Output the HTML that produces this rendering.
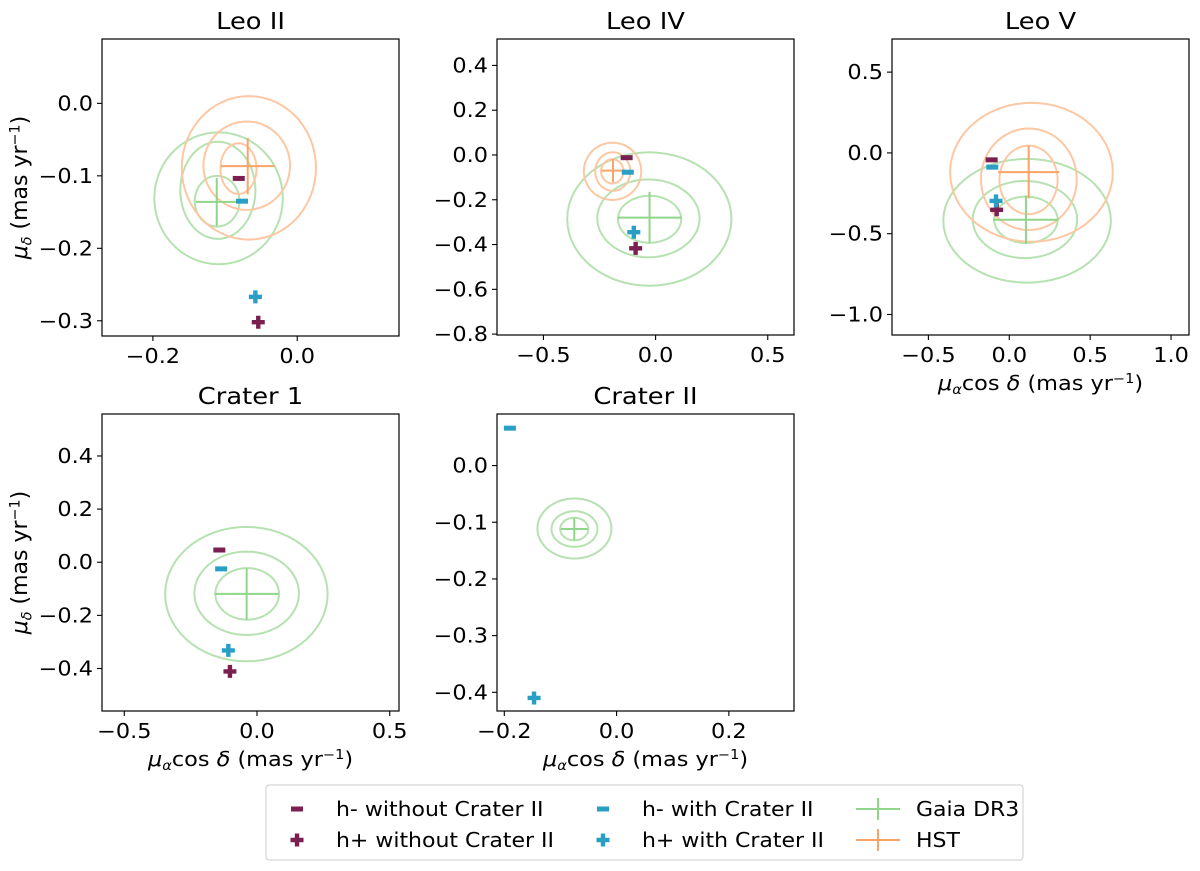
<!DOCTYPE html>
<html><head><meta charset="utf-8"><style>
body{margin:0;background:#fff;}
svg{display:block;font-family:"DejaVu Sans","Liberation Sans",sans-serif;}
.sx{transform-box:fill-box;transform-origin:center;transform:scaleX(1.12);}
</style></head><body>
<svg id="fig" width="1200" height="871" viewBox="0 0 1200 871" xmlns="http://www.w3.org/2000/svg"></svg>
<script>
// Panel definitions
const panelNames = ["Leo II","Leo IV","Leo V","Crater 1","Crater II"];
const panelBoxes = [[102,39,297,297],[497,39,297,296],[892,39,297,296],[102,414,297,297],[497,414,297,297]];
const xLims = [[-0.2705,0.141],[-0.707,0.617],[-0.725,1.111],[-0.584,0.535],[-0.213,0.316]];
const yLims = [[-0.321,0.0888],[-0.804,0.518],[-1.127,0.705],[-0.56,0.558],[-0.433,0.091]];
const xTicks = [[-0.2,0.0],[-0.5,0.0,0.5],[-0.5,0.0,0.5,1.0],[-0.5,0.0,0.5],[-0.2,0.0,0.2]];
const xTickLabels = [["−0.2","0.0"],["−0.5","0.0","0.5"],["−0.5","0.0","0.5","1.0"],["−0.5","0.0","0.5"],["−0.2","0.0","0.2"]];
const yTicks = [[0.0,-0.1,-0.2,-0.3],[0.4,0.2,0.0,-0.2,-0.4,-0.6,-0.8],[0.5,0.0,-0.5,-1.0],[0.4,0.2,0.0,-0.2,-0.4],[0.0,-0.1,-0.2,-0.3,-0.4]];
const yTickLabels = [["0.0","−0.1","−0.2","−0.3"],["0.4","0.2","0.0","−0.2","−0.4","−0.6","−0.8"],["0.5","0.0","−0.5","−1.0"],["0.4","0.2","0.0","−0.2","−0.4"],["0.0","−0.1","−0.2","−0.3","−0.4"]];
const showYLabel = [true,false,false,true,false];
const showXLabel = [false,false,true,true,true];

// Gaia DR3 measurements
const gaiaX = [-0.1115,-0.027,0.103,-0.039,-0.0754];
const gaiaY = [-0.136,-0.280,-0.414,-0.119,-0.112];
const gaiaXerr = [0.029,0.143,0.203,0.121,0.024];
const gaiaYerr = [0.033,0.115,0.15,0.097,0.02];
// HST measurements (null = none)
const hstX = [-0.0686,-0.19,0.12,null,null];
const hstY = [-0.0866,-0.070,-0.119,null,null];
const hstXerr = [0.037,0.052,0.189,null,null];
const hstYerr = [0.039,0.052,0.163,null,null];
// model predictions
const hMinusNoX = [-0.081,-0.129,-0.109,-0.142,null];
const hMinusNoY = [-0.1036,-0.012,-0.043,0.046,null];
const hPlusNoX = [-0.054,-0.089,-0.078,-0.102,null];
const hPlusNoY = [-0.302,-0.417,-0.352,-0.411,null];
const hMinusWithX = [-0.0765,-0.124,-0.105,-0.135,-0.19];
const hMinusWithY = [-0.135,-0.077,-0.088,-0.025,0.066];
const hPlusWithX = [-0.058,-0.097,-0.082,-0.108,-0.147];
const hPlusWithY = [-0.267,-0.345,-0.297,-0.332,-0.41];
// contour levels [cx, cy, rx, ry]
const gaiaContours = [
 [[-0.111,-0.135,0.031,0.035],[-0.110,-0.12,0.052,0.067],[-0.109,-0.131,0.089,0.091]],
 [[-0.027,-0.287,0.141,0.105],[-0.032,-0.283,0.228,0.174],[-0.028,-0.286,0.366,0.298]],
 [[0.103,-0.414,0.196,0.144],[0.097,-0.412,0.323,0.239],[0.11,-0.42,0.518,0.383]],
 [[-0.037,-0.119,0.120,0.097],[-0.039,-0.117,0.197,0.157],[-0.04,-0.12,0.306,0.253]],
 [[-0.0754,-0.112,0.025,0.020],[-0.075,-0.112,0.041,0.0315],[-0.075,-0.111,0.066,0.053]]
];
const hstContours = [
 [[-0.0815,-0.090,0.025,0.035],[-0.070,-0.086,0.060,0.061],[-0.067,-0.089,0.093,0.099]],
 [[-0.193,-0.073,0.050,0.054],[-0.191,-0.074,0.078,0.086],[-0.192,-0.073,0.128,0.128]],
 [[0.119,-0.167,0.180,0.212],[0.121,-0.163,0.296,0.314],[0.137,-0.12,0.503,0.43]],
 [],[]
];

const NS="http://www.w3.org/2000/svg";
const svg=document.getElementById('fig');
function mk(tag,attrs,parent){const e=document.createElementNS(NS,tag);for(const k in attrs)e.setAttribute(k,attrs[k]);(parent||svg).appendChild(e);return e;}
const C_GAIA_C="#b5e2b0", C_GAIA="#8fd68a", C_HST_C="#fdc7a3", C_HST="#f9a468", C_MAROON="#7a1f4f", C_CYAN="#2a9fc6";

function ellPath(cx,cy,rx,ry){
  let d="";const n=60;
  for(let i=0;i<=n;i++){const t=i/n*2*Math.PI;const x=cx+rx*Math.cos(t),y=cy+ry*Math.sin(t);d+=(i?"L":"M")+x.toFixed(1)+","+y.toFixed(1);}
  return d+"Z";
}
function minusMarker(g,px,py,col){
  const r=mk('rect',{x:px-6,y:py-2.5,width:12,height:5,fill:col},g);
  
  
}
function plusMarker(g,px,py,col){
  const p=mk('path',{d:`M${px-2.2},${py-6.5}h4.4v4.3h4.3v4.4h-4.3v4.3h-4.4v-4.3h-4.3v-4.4h4.3z`,fill:col},g);
  
  
}

for(let i=0;i<panelNames.length;i++){
  const [L,T,W,H]=panelBoxes[i];
  const sx=v=>L+(v-xLims[i][0])/(xLims[i][1]-xLims[i][0])*W;
  const sy=v=>T+H-(v-yLims[i][0])/(yLims[i][1]-yLims[i][0])*H;
  const g=mk('g',{});
  
  
  const t=mk('text',{x:L+W/2,y:T-10,'text-anchor':'middle','font-size':23,fill:'#000',class:'sx'},g);t.textContent=panelNames[i];
  
  
  const clip=mk('clipPath',{id:'c'+i},g);mk('rect',{x:L,y:T,width:W,height:H},clip);
  const pg=mk('g',{'clip-path':`url(#c${i})`},g);
  gaiaContours[i].forEach(c=>{const p=mk('path',{d:ellPath(sx(c[0]),sy(c[1]),c[2]/(xLims[i][1]-xLims[i][0])*W,c[3]/(yLims[i][1]-yLims[i][0])*H),fill:'none',stroke:C_GAIA_C,'stroke-width':2},pg);
    
    });
  hstContours[i].forEach(c=>{const p=mk('path',{d:ellPath(sx(c[0]),sy(c[1]),c[2]/(xLims[i][1]-xLims[i][0])*W,c[3]/(yLims[i][1]-yLims[i][0])*H),fill:'none',stroke:C_HST_C,'stroke-width':2},pg);
    
    });
  const eb=(x,y,xe,ye,col,name)=>{const e=mk('path',{d:`M${sx(x-xe)},${sy(y)}H${sx(x+xe)}M${sx(x)},${sy(y-ye)}V${sy(y+ye)}`,stroke:col,'stroke-width':2,fill:'none'},pg);
    
    };
  eb(gaiaX[i],gaiaY[i],gaiaXerr[i],gaiaYerr[i],C_GAIA,'gaia-errorbar');
  if(hstX[i]!==null) eb(hstX[i],hstY[i],hstXerr[i],hstYerr[i],C_HST,'hst-errorbar');
  if(hMinusNoX[i]!==null) minusMarker(pg,sx(hMinusNoX[i]),sy(hMinusNoY[i]),C_MAROON);
  if(hPlusNoX[i]!==null) plusMarker(pg,sx(hPlusNoX[i]),sy(hPlusNoY[i]),C_MAROON);
  minusMarker(pg,sx(hMinusWithX[i]),sy(hMinusWithY[i]),C_CYAN);
  plusMarker(pg,sx(hPlusWithX[i]),sy(hPlusWithY[i]),C_CYAN);
  const fr=mk('rect',{x:L,y:T,width:W,height:H,fill:'none',stroke:'#000','stroke-width':1.2},g);
  
  
  xTicks[i].forEach((v,k)=>{const x=sx(v);mk('line',{x1:x,x2:x,y1:T+H,y2:T+H+5,stroke:'#000','stroke-width':1.1},g);
    const tl=mk('text',{x:x,y:T+H+27,'text-anchor':'middle','font-size':20,class:'sx'},g);tl.textContent=xTickLabels[i][k];
    
    });
  yTicks[i].forEach((v,k)=>{const y=sy(v);mk('line',{x1:L-5,x2:L,y1:y,y2:y,stroke:'#000','stroke-width':1.1},g);
    const tl=mk('text',{x:L-9,y:y+7,'text-anchor':'end','font-size':20},g);tl.textContent=yTickLabels[i][k];
    tl.setAttribute('style','transform-box:fill-box;transform-origin:right center;transform:scaleX(1.12)');
    
    });
  if(showYLabel[i]){const yl=mk('text',{x:0,y:0,'text-anchor':'middle','font-size':20,transform:`translate(27,${T+H/2}) rotate(-90) scale(1.1,1.1)`},g);
    yl.innerHTML='<tspan font-style="italic">μ</tspan><tspan font-size="13" font-style="italic" dy="4">δ</tspan><tspan dy="-4"> (mas yr</tspan><tspan font-size="13" dy="-7">−1</tspan><tspan dy="7">)</tspan>';
    
    }
  if(showXLabel[i]){const xl=mk('text',{x:L+W/2,y:T+H+55,'text-anchor':'middle','font-size':20,class:'sx'},g);
    xl.innerHTML='<tspan font-style="italic">μ</tspan><tspan font-size="13" font-style="italic" dy="4">α</tspan><tspan dy="-4">cos</tspan><tspan font-style="italic"> δ</tspan><tspan> (mas yr</tspan><tspan font-size="13" dy="-7">−1</tspan><tspan dy="7">)</tspan>';
    
    }
}

// Legend
const lg=mk('g',{});


mk('rect',{x:266,y:785,width:757,height:75,rx:3,fill:'#fff',stroke:'#ccc','stroke-width':1},lg);
const legendLabels=["h- without Crater II","h+ without Crater II","h- with Crater II","h+ with Crater II","Gaia DR3","HST"];
const legendPos=[[297,809,336],[297,840,336],[603,809,642],[603,840,642],[878,809,916],[878,840,916]];
legendLabels.forEach((lab,k)=>{
  const [mx,my,tx]=legendPos[k];
  const e=mk('g',{},lg);
  
  
  if(k===0)minusMarker(e,mx,my,C_MAROON);
  if(k===1)plusMarker(e,mx,my,C_MAROON);
  if(k===2)minusMarker(e,mx,my,C_CYAN);
  if(k===3)plusMarker(e,mx,my,C_CYAN);
  if(k>=4){const col=k===4?C_GAIA:C_HST;mk('path',{d:`M${mx-22},${my}H${mx+22}M${mx},${my-11}V${my+11}`,stroke:col,'stroke-width':2},e);}
  const t=mk('text',{x:tx,y:my+7,'font-size':20},e);t.textContent=lab;
  t.setAttribute('style','transform-box:fill-box;transform-origin:left center;transform:scaleX(1.1)');
});
</script>
</body></html>
